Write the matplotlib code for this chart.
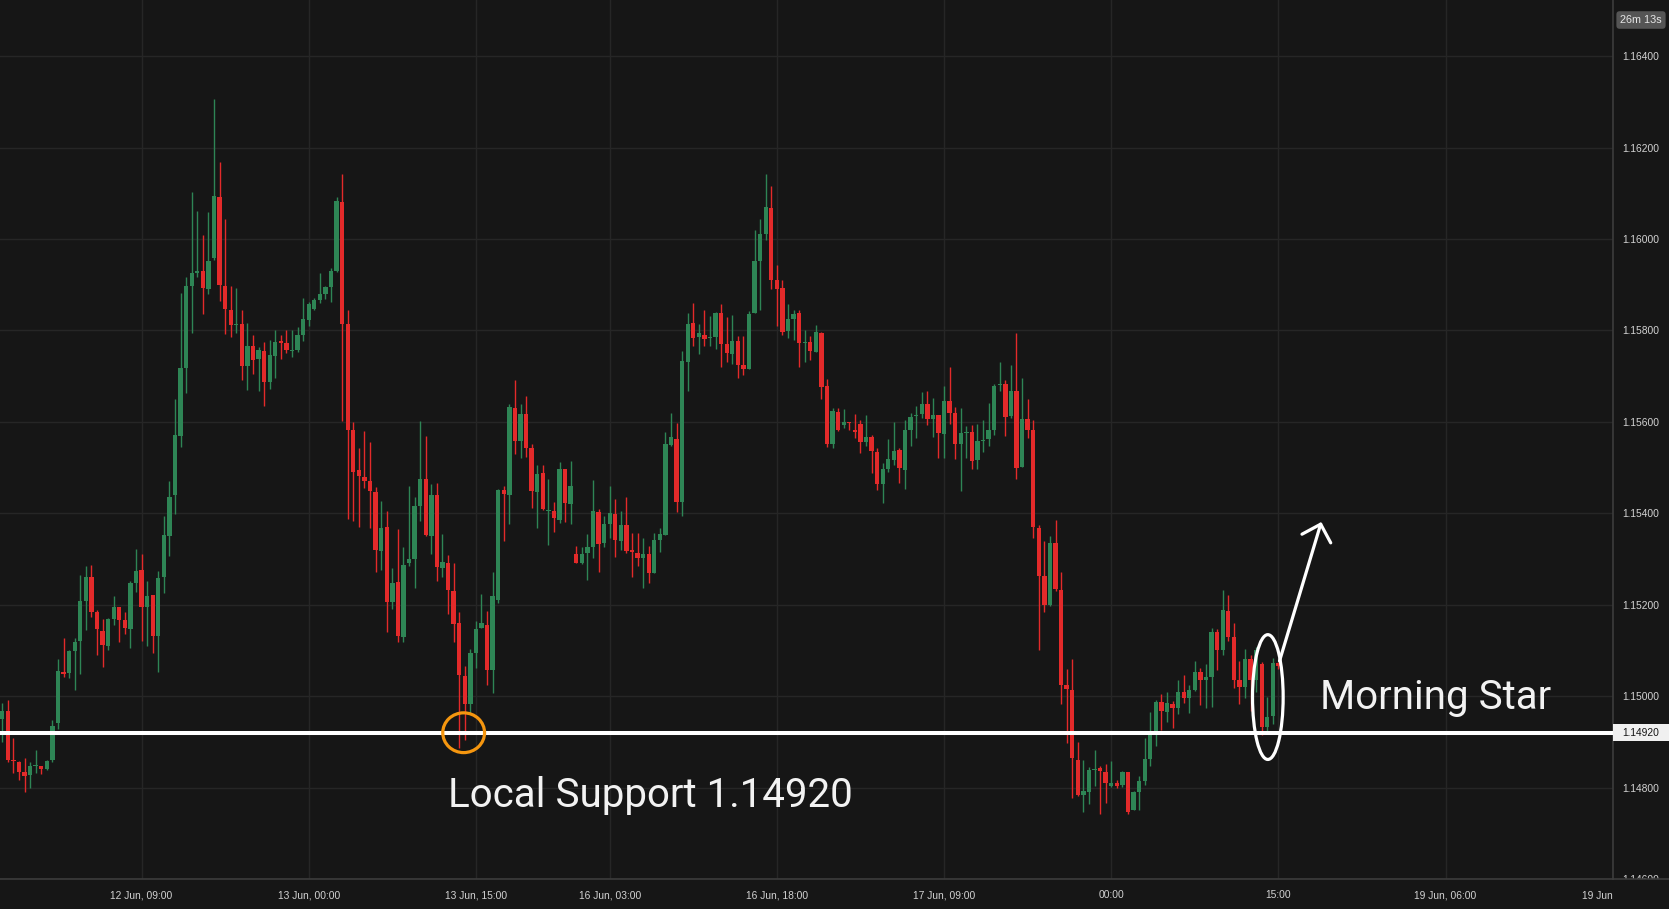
import numpy as np
import matplotlib
matplotlib.use('Agg')
import matplotlib.pyplot as plt
from matplotlib.patches import Ellipse, Rectangle
from matplotlib.transforms import blended_transform_factory, Bbox, TransformedBbox

# 30 min EURUSD candles, bar 0 = 12 Jun 09:00
first_bar = -25
opens = [1.14949, 1.14968, 1.14861, 1.14857, 1.14833, 1.14828, 1.14848, 1.14847, 1.14841, 1.14861,
         1.14942, 1.15053, 1.15050, 1.15098, 1.15120, 1.15209, 1.15261, 1.15183, 1.15143, 1.15109,
         1.15168, 1.15194, 1.15166, 1.15146, 1.15248, 1.15275, 1.15194, 1.15221, 1.15131, 1.15260,
         1.15350, 1.15439, 1.15570, 1.15718, 1.15897, 1.15926, 1.15931, 1.15890, 1.15959, 1.16092,
         1.15898, 1.15844, 1.15813, 1.15815, 1.15722, 1.15765, 1.15738, 1.15754, 1.15687, 1.15744,
         1.15776, 1.15772, 1.15755, 1.15757, 1.15791, 1.15822, 1.15847, 1.15866, 1.15879, 1.15894,
         1.15931, 1.16081, 1.15815, 1.15582, 1.15494, 1.15480, 1.15470, 1.15446, 1.15317, 1.15369,
         1.15207, 1.15250, 1.15130, 1.15292, 1.15299, 1.15417, 1.15474, 1.15350, 1.15439, 1.15280,
         1.15291, 1.15230, 1.15160, 1.15045, 1.14982, 1.15095, 1.15149, 1.15155, 1.15057, 1.15210,
         1.15451, 1.15440, 1.15630, 1.15558, 1.15618, 1.15542, 1.15446, 1.15489, 1.15406, 1.15406,
         1.15386, 1.15496, 1.15420, 1.15311, 1.15291, 1.15313, 1.15326, 1.15402, 1.15335, 1.15376,
         1.15399, 1.15340, 1.15374, 1.15319, 1.15314, 1.15303, 1.15312, 1.15269, 1.15341, 1.15352,
         1.15550, 1.15562, 1.15424, 1.15730, 1.15816, 1.15785, 1.15790, 1.15783, 1.15785, 1.15839,
         1.15771, 1.15749, 1.15778, 1.15724, 1.15716, 1.15838, 1.15951, 1.16010, 1.16067, 1.15910,
         1.15892, 1.15798, 1.15826, 1.15838, 1.15772, 1.15774, 1.15753, 1.15794, 1.15678, 1.15551,
         1.15622, 1.15593, 1.15599, 1.15582, 1.15596, 1.15555, 1.15568, 1.15534, 1.15464, 1.15496,
         1.15516, 1.15539, 1.15495, 1.15582, 1.15612, 1.15618, 1.15640, 1.15606, 1.15616, 1.15574,
         1.15646, 1.15619, 1.15551, 1.15576, 1.15578, 1.15517, 1.15559, 1.15562, 1.15582, 1.15680,
         1.15682, 1.15612, 1.15667, 1.15502, 1.15606, 1.15582, 1.15367, 1.15263, 1.15199, 1.15336,
         1.15232, 1.15024, 1.15013, 1.14861, 1.14784, 1.14791, 1.14838, 1.14842, 1.14833, 1.14804,
         1.14811, 1.14805, 1.14833, 1.14751, 1.14791, 1.14815, 1.14863, 1.14923, 1.14987, 1.14965,
         1.14983, 1.14974, 1.15009, 1.14996, 1.15013, 1.15053, 1.15035, 1.15041, 1.15140, 1.15102,
         1.15186, 1.15129, 1.15035, 1.15020, 1.15081, 1.15036, 1.15070, 1.14933, 1.14957, 1.15072]
highs = [1.14985, 1.14991, 1.14909, 1.14859, 1.14864, 1.14855, 1.14883, 1.14848, 1.14861, 1.14947,
         1.15081, 1.15128, 1.15100, 1.15128, 1.15264, 1.15284, 1.15286, 1.15189, 1.15168, 1.15171,
         1.15218, 1.15194, 1.15185, 1.15251, 1.15322, 1.15310, 1.15251, 1.15221, 1.15274, 1.15394,
         1.15470, 1.15650, 1.15881, 1.15918, 1.16103, 1.16061, 1.16009, 1.16059, 1.16307, 1.16169,
         1.16043, 1.15897, 1.15892, 1.15845, 1.15817, 1.15789, 1.15763, 1.15774, 1.15779, 1.15802,
         1.15790, 1.15802, 1.15800, 1.15807, 1.15872, 1.15863, 1.15872, 1.15925, 1.15897, 1.15936,
         1.16092, 1.16142, 1.15844, 1.15600, 1.15543, 1.15580, 1.15556, 1.15457, 1.15426, 1.15404,
         1.15280, 1.15365, 1.15326, 1.15460, 1.15436, 1.15603, 1.15570, 1.15465, 1.15467, 1.15355,
         1.15308, 1.15291, 1.15184, 1.15066, 1.15104, 1.15165, 1.15224, 1.15186, 1.15271, 1.15454,
         1.15459, 1.15639, 1.15692, 1.15639, 1.15657, 1.15551, 1.15505, 1.15505, 1.15474, 1.15424,
         1.15513, 1.15496, 1.15515, 1.15328, 1.15327, 1.15355, 1.15472, 1.15410, 1.15395, 1.15459,
         1.15431, 1.15405, 1.15436, 1.15358, 1.15357, 1.15345, 1.15329, 1.15358, 1.15368, 1.15578,
         1.15620, 1.15598, 1.15754, 1.15839, 1.15861, 1.15814, 1.15844, 1.15831, 1.15841, 1.15857,
         1.15830, 1.15833, 1.15788, 1.15788, 1.15843, 1.16019, 1.16044, 1.16143, 1.16117, 1.15944,
         1.15910, 1.15857, 1.15844, 1.15845, 1.15802, 1.15788, 1.15811, 1.15796, 1.15694, 1.15630,
         1.15630, 1.15629, 1.15599, 1.15618, 1.15604, 1.15616, 1.15572, 1.15542, 1.15511, 1.15562,
         1.15600, 1.15543, 1.15604, 1.15619, 1.15634, 1.15665, 1.15668, 1.15652, 1.15616, 1.15678,
         1.15720, 1.15632, 1.15630, 1.15590, 1.15594, 1.15596, 1.15604, 1.15641, 1.15682, 1.15730,
         1.15692, 1.15724, 1.15794, 1.15695, 1.15650, 1.15604, 1.15375, 1.15339, 1.15350, 1.15385,
         1.15271, 1.15060, 1.15081, 1.14899, 1.14861, 1.14845, 1.14883, 1.14848, 1.14851, 1.14859,
         1.14817, 1.14837, 1.14833, 1.14793, 1.14825, 1.14909, 1.14965, 1.14992, 1.15005, 1.15009,
         1.14989, 1.15035, 1.15046, 1.15025, 1.15077, 1.15061, 1.15070, 1.15149, 1.15147, 1.15232,
         1.15221, 1.15160, 1.15077, 1.15103, 1.15090, 1.15108, 1.15075, 1.14998, 1.15083, 1.15075]
lows = [1.14899, 1.14855, 1.14832, 1.14817, 1.14791, 1.14798, 1.14832, 1.14829, 1.14839, 1.14857,
        1.14928, 1.15041, 1.15040, 1.15014, 1.15048, 1.15144, 1.15174, 1.15090, 1.15064, 1.15100,
        1.15156, 1.15118, 1.15136, 1.15105, 1.15228, 1.15121, 1.15110, 1.15095, 1.15053, 1.15225,
        1.15306, 1.15399, 1.15546, 1.15664, 1.15795, 1.15918, 1.15835, 1.15879, 1.15955, 1.15865,
        1.15792, 1.15786, 1.15795, 1.15691, 1.15670, 1.15704, 1.15668, 1.15634, 1.15672, 1.15696,
        1.15738, 1.15751, 1.15743, 1.15753, 1.15778, 1.15809, 1.15844, 1.15860, 1.15869, 1.15863,
        1.15928, 1.15602, 1.15388, 1.15384, 1.15369, 1.15455, 1.15368, 1.15272, 1.15276, 1.15140,
        1.15191, 1.15118, 1.15118, 1.15284, 1.15237, 1.15384, 1.15350, 1.15312, 1.15251, 1.15261,
        1.15180, 1.15118, 1.14886, 1.14904, 1.14962, 1.15061, 1.15149, 1.15024, 1.15007, 1.15203,
        1.15339, 1.15376, 1.15529, 1.15522, 1.15524, 1.15411, 1.15368, 1.15407, 1.15331, 1.15360,
        1.15378, 1.15380, 1.15376, 1.15292, 1.15290, 1.15255, 1.15303, 1.15272, 1.15326, 1.15345,
        1.15305, 1.15319, 1.15314, 1.15261, 1.15284, 1.15236, 1.15248, 1.15269, 1.15315, 1.15352,
        1.15548, 1.15402, 1.15395, 1.15667, 1.15765, 1.15749, 1.15767, 1.15767, 1.15760, 1.15721,
        1.15730, 1.15727, 1.15695, 1.15703, 1.15716, 1.15838, 1.15845, 1.15997, 1.15890, 1.15809,
        1.15790, 1.15783, 1.15779, 1.15720, 1.15730, 1.15735, 1.15753, 1.15649, 1.15546, 1.15543,
        1.15580, 1.15586, 1.15583, 1.15564, 1.15531, 1.15548, 1.15488, 1.15451, 1.15423, 1.15491,
        1.15505, 1.15467, 1.15453, 1.15547, 1.15565, 1.15608, 1.15593, 1.15566, 1.15520, 1.15520,
        1.15595, 1.15518, 1.15449, 1.15520, 1.15498, 1.15498, 1.15534, 1.15548, 1.15572, 1.15667,
        1.15569, 1.15608, 1.15474, 1.15502, 1.15564, 1.15347, 1.15101, 1.15183, 1.15197, 1.15230,
        1.14982, 1.14897, 1.14777, 1.14782, 1.14746, 1.14765, 1.14803, 1.14743, 1.14767, 1.14802,
        1.14798, 1.14801, 1.14743, 1.14751, 1.14750, 1.14805, 1.14847, 1.14892, 1.14926, 1.14943,
        1.14930, 1.14960, 1.14985, 1.14963, 1.15012, 1.14980, 1.14974, 1.14977, 1.15058, 1.15091,
        1.15120, 1.15018, 1.14983, 1.14996, 1.14968, 1.15010, 1.14915, 1.14923, 1.14938, 1.15060]
closes = [1.14968, 1.14861, 1.14859, 1.14834, 1.14826, 1.14847, 1.14850, 1.14841, 1.14859, 1.14935,
          1.15055, 1.15049, 1.15098, 1.15118, 1.15209, 1.15261, 1.15185, 1.15146, 1.15111, 1.15168,
          1.15194, 1.15166, 1.15150, 1.15248, 1.15274, 1.15194, 1.15220, 1.15131, 1.15259, 1.15352,
          1.15436, 1.15572, 1.15718, 1.15897, 1.15925, 1.15930, 1.15892, 1.15953, 1.16094, 1.15900,
          1.15846, 1.15813, 1.15815, 1.15722, 1.15765, 1.15736, 1.15757, 1.15688, 1.15746, 1.15774,
          1.15772, 1.15758, 1.15757, 1.15791, 1.15826, 1.15857, 1.15866, 1.15880, 1.15894, 1.15931,
          1.16083, 1.15815, 1.15582, 1.15490, 1.15482, 1.15470, 1.15448, 1.15319, 1.15367, 1.15207,
          1.15248, 1.15132, 1.15286, 1.15299, 1.15417, 1.15476, 1.15352, 1.15441, 1.15282, 1.15293,
          1.15232, 1.15157, 1.15046, 1.14982, 1.15095, 1.15147, 1.15159, 1.15057, 1.15219, 1.15452,
          1.15442, 1.15632, 1.15558, 1.15618, 1.15543, 1.15448, 1.15486, 1.15409, 1.15408, 1.15389,
          1.15496, 1.15423, 1.15459, 1.15292, 1.15310, 1.15326, 1.15404, 1.15333, 1.15376, 1.15401,
          1.15342, 1.15374, 1.15317, 1.15316, 1.15303, 1.15312, 1.15269, 1.15341, 1.15355, 1.15551,
          1.15566, 1.15424, 1.15733, 1.15814, 1.15784, 1.15794, 1.15781, 1.15785, 1.15838, 1.15771,
          1.15751, 1.15778, 1.15724, 1.15715, 1.15837, 1.15951, 1.16010, 1.16069, 1.15910, 1.15890,
          1.15796, 1.15826, 1.15835, 1.15772, 1.15774, 1.15755, 1.15796, 1.15677, 1.15552, 1.15623,
          1.15582, 1.15599, 1.15597, 1.15578, 1.15555, 1.15568, 1.15536, 1.15464, 1.15496, 1.15518,
          1.15536, 1.15499, 1.15582, 1.15610, 1.15615, 1.15640, 1.15606, 1.15616, 1.15576, 1.15646,
          1.15620, 1.15552, 1.15576, 1.15578, 1.15515, 1.15558, 1.15561, 1.15582, 1.15678, 1.15682,
          1.15610, 1.15667, 1.15500, 1.15606, 1.15582, 1.15369, 1.15263, 1.15199, 1.15336, 1.15234,
          1.15024, 1.15016, 1.14864, 1.14784, 1.14792, 1.14838, 1.14840, 1.14836, 1.14810, 1.14811,
          1.14804, 1.14835, 1.14747, 1.14790, 1.14815, 1.14863, 1.14916, 1.14987, 1.14968, 1.14985,
          1.14974, 1.15009, 1.14996, 1.15013, 1.15053, 1.15035, 1.15042, 1.15140, 1.15102, 1.15188,
          1.15129, 1.15036, 1.15020, 1.15081, 1.15036, 1.15100, 1.14933, 1.14954, 1.15072, 1.15065]

tick_bars = [0, 30, 60, 84, 114, 144, 174, 204, 234, 264]
tick_labels = ['12 Jun, 09:00', '13 Jun, 00:00', '13 Jun, 15:00', '16 Jun, 03:00', '16 Jun, 18:00',
               '17 Jun, 09:00', '00:00', '15:00', '19 Jun, 06:00', '19 Jun, 21:00']
price_ticks = [1.146, 1.148, 1.150, 1.152, 1.154, 1.156, 1.158, 1.160, 1.162, 1.164]

support = 1.14920
support_bar = 57.8
star_bar = 202.1
star_price = 1.14998
arrow_from = (204.2, 1.15077)
arrow_to = (211.7, 1.15381)

BG = '#161616'
GRID = '#262626'
UP = '#2e8555'
DOWN = '#e32a2a'
TXT = '#d2d2d2'

o = np.array(opens)
h = np.array(highs)
l = np.array(lows)
c = np.array(closes)
x = np.arange(len(o)) + first_bar
col = np.where(c >= o, UP, DOWN)

fig = plt.figure(figsize=(16.69, 9.09), dpi=100, facecolor=BG)
ax = fig.add_axes([0, 30 / 909, 1612.8 / 1669, 879 / 909])
ax.set_facecolor(BG)

ax.vlines(x, l, h, colors=col, linewidth=1.0, zorder=2)
ax.bar(x, np.maximum(np.abs(c - o), 0.00002), bottom=np.minimum(o, c), width=0.78,
       color=col, linewidth=0, zorder=3)

ax.set_xlim(-25.4, 263.1)
ax.set_ylim(1.146094, 1.165229)
ax.set_xticks(tick_bars)
ax.set_xticklabels(tick_labels)
ax.set_yticks(price_ticks)
ax.set_yticklabels(['%.5f' % p for p in price_ticks])
ax.yaxis.tick_right()
ax.grid(color=GRID, linewidth=1.0, zorder=0)
ax.set_axisbelow(True)
ax.tick_params(axis='both', length=0, colors=TXT, labelsize=7.4)
ax.tick_params(axis='x', pad=8)
ax.tick_params(axis='y', pad=7)
for lab in ax.get_xticklabels() + ax.get_yticklabels():
    lab.set_family(['Liberation Sans Narrow', 'Liberation Sans', 'DejaVu Sans'])

# price scale and time scale cut the labels that run past them
for lab in ax.get_xticklabels():
    lab.set_clip_box(TransformedBbox(Bbox([[0, 0], [1612.8 / 1669, 1]]), fig.transFigure))
    lab.set_clip_on(True)
for lab in ax.get_yticklabels():
    lab.set_clip_box(TransformedBbox(Bbox([[0, 30 / 909], [1, 1]]), fig.transFigure))
    lab.set_clip_on(True)

for s in ['top', 'left']:
    ax.spines[s].set_visible(False)
for s in ['right', 'bottom']:
    ax.spines[s].set_color('#3c3c3c')
    ax.spines[s].set_linewidth(1.2)
# axis line continues under the price scale
fig.add_artist(plt.Line2D([1612.8 / 1669, 1], [30 / 909, 30 / 909], color='#3c3c3c', lw=1.2))

# support level
ax.axhline(support, color='white', linewidth=2.9, zorder=4)
tr = blended_transform_factory(ax.transAxes, ax.transData)
ax.add_patch(Rectangle((1.0, support - 0.00019), 0.036, 0.00038, transform=tr,
                       facecolor='#f0f0f0', edgecolor='none', clip_on=False, zorder=5))
ax.text(1.0175, support, '%.5f' % support, transform=tr, ha='center', va='center',
        fontsize=7.4, color='#151515', family=['Liberation Sans', 'DejaVu Sans'],
        clip_on=False, zorder=6)

ax.add_patch(Ellipse((support_bar, support), 7.5, 0.00087, fill=False,
                     edgecolor='#f5960f', linewidth=2.3, zorder=6))
ax.text(54.9, 1.14758, 'Local Support %.5f' % support, color='#f2f2f2', fontsize=29,
        family=['Roboto', 'DejaVu Sans'], ha='left', va='baseline', zorder=7)

ax.add_patch(Ellipse((star_bar, star_price), 5.5, 0.00273, fill=False,
                     edgecolor='white', linewidth=2.3, zorder=6))
ax.annotate('', xy=arrow_to, xytext=arrow_from,
            arrowprops=dict(arrowstyle='->,head_length=0.4,head_width=0.4', color='white',
                            lw=2.3, mutation_scale=27, shrinkA=0, shrinkB=0), zorder=7)
ax.text(211.5, 1.14972, 'Morning Star', color='#f2f2f2', fontsize=29,
        family=['Roboto', 'DejaVu Sans'], ha='left', va='baseline', zorder=7)

# countdown tag
fig.text(1641 / 1669, 1 - 20 / 909, '26m 13s', ha='center', va='center', fontsize=7.8,
         color='#e6e6e6', family=['Liberation Sans', 'DejaVu Sans'],
         bbox=dict(boxstyle='round,pad=0.35,rounding_size=0.3', facecolor='#555555',
                   edgecolor='none'))

fig.savefig('out.png', dpi=100, facecolor=BG)
